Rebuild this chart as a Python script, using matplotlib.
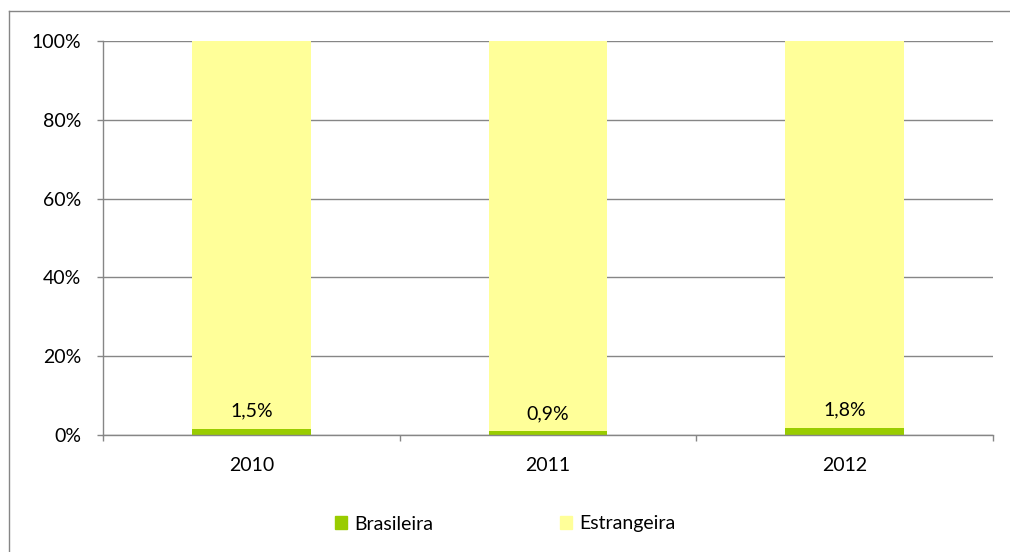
import numpy as np
import matplotlib.pyplot as plt
from matplotlib.patches import Rectangle
from matplotlib.lines import Line2D

plt.rcParams['font.family'] = ['Lato', 'DejaVu Sans']

anos = ['2010', '2011', '2012']
brasileira = [1.5, 0.9, 1.8]
estrangeira = [100 - v for v in brasileira]
rotulos = ['1,5%', '0,9%', '1,8%']

verde = '#99CC00'
amarelo = '#FFFF99'
cinza = '#868686'
fs = 14

fig = plt.figure(figsize=(10.1, 5.52), dpi=100)
ax = fig.add_axes([103 / 1010, 1 - 435 / 552, 890 / 1010, 394 / 552])

x = np.arange(len(anos))
ax.bar(x, brasileira, width=0.4, color=verde, zorder=3)
ax.bar(x, estrangeira, width=0.4, bottom=brasileira, color=amarelo, zorder=3)

for xi, v, t in zip(x, brasileira, rotulos):
    ax.annotate(t, (xi, v), xytext=(0, 13), textcoords='offset points',
                ha='center', va='center', fontsize=fs, zorder=4)

ax.set_xlim(-0.5, 2.5)
ax.set_ylim(0, 100)
ax.set_yticks(range(0, 101, 20))
ax.set_yticklabels([f'{v}%' for v in range(0, 101, 20)], fontsize=fs)
ax.set_xticks(x)
ax.set_xticklabels(anos, fontsize=fs)
ax.set_xticks([-0.5, 0.5, 1.5, 2.5], minor=True)
ax.tick_params(axis='x', which='major', length=0, pad=16)
ax.tick_params(axis='x', which='minor', length=4.5, color=cinza, width=1)
ax.tick_params(axis='y', length=4.5, color=cinza, width=1, pad=11)
ax.grid(axis='y', color=cinza, linewidth=1, zorder=0)
for s in ['top', 'right']:
    ax.spines[s].set_visible(False)
for s in ['left', 'bottom']:
    ax.spines[s].set_color(cinza)
    ax.spines[s].set_linewidth(1)
    ax.spines[s].set_zorder(5)

handles = [Rectangle((0, 0), 1, 1, color=verde), Rectangle((0, 0), 1, 1, color=amarelo)]
fig.legend(handles, ['Brasileira', 'Estrangeira'], loc='center', bbox_to_anchor=(0.5, 1 - 524 / 552),
           ncol=2, frameon=False, fontsize=fs, handlelength=0.65, handleheight=0.65,
           handletextpad=0.35, columnspacing=6.5)

# moldura externa do gráfico (só topo e lado esquerdo aparecem)
fig.add_artist(Line2D([9 / 1010, 9 / 1010], [0, 1 - 11 / 552], color=cinza, lw=1, transform=fig.transFigure))
fig.add_artist(Line2D([9 / 1010, 1], [1 - 11 / 552, 1 - 11 / 552], color=cinza, lw=1, transform=fig.transFigure))

fig.savefig('out.png', dpi=100)
